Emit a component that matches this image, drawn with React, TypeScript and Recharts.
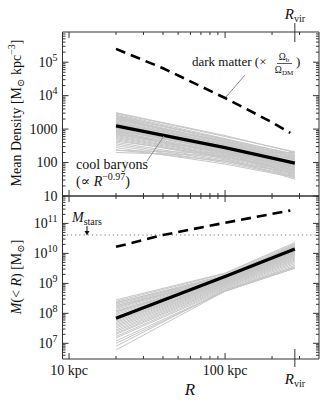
import React from 'react';
import { LineChart, Line, XAxis, YAxis } from 'recharts';

const FONT = "'Liberation Serif', 'Times New Roman', Times, 'DejaVu Serif', serif";
const INK = '#333';
const GRAY = '#c6c6c6';

// radius axis (kpc)
const R_DOMAIN = [9.08, 400];
const R_MAJOR = [10, 100];
const R_LABELS = ['10 kpc', '100 kpc'];
const R_MINOR = [20, 30, 40, 50, 60, 70, 80, 90, 200, 300];
const R_VIR = 280;

// density axis
const DENS_DOMAIN = [10, 8e5];
const DENS_MAJOR = [10, 100, 1000, 1e4, 1e5];
const DENS_LABELS = ['10', '100', '1000', '10^4', '10^5'];

// enclosed mass axis
const MASS_DOMAIN = [3e6, 8.2e11];
const MASS_MAJOR = [1e7, 1e8, 1e9, 1e10, 1e11];
const MASS_LABELS = ['10^7', '10^8', '10^9', '10^10', '10^11'];

const M_STARS = 4.1e10;

// individual cool-baryon profiles, values at GRAY_R
const GRAY_R = [20, 100, 280];
const GRAY_DENSITY = [
  [3100, 640, 200], [3000, 600, 210], [2800, 520, 170], [2600, 480, 160],
  [2500, 450, 150], [2300, 500, 180], [2200, 420, 140], [2100, 400, 130],
  [2000, 380, 125], [1900, 430, 150], [1800, 360, 120], [1700, 340, 110],
  [1600, 330, 105], [1500, 350, 120], [1450, 300, 100], [1400, 310, 95],
  [1300, 290, 100], [1200, 260, 85], [1150, 280, 95], [1100, 240, 80],
  [1050, 250, 88], [1000, 230, 78], [950, 220, 75], [900, 240, 82],
  [850, 200, 70], [800, 210, 72], [760, 190, 65], [720, 180, 62],
  [680, 200, 70], [640, 170, 58], [600, 160, 55], [560, 150, 52],
  [520, 140, 50], [480, 130, 46], [440, 150, 60], [400, 120, 44],
  [360, 110, 40], [320, 100, 38], [280, 90, 36], [240, 110, 48],
  [200, 160, 150], [230, 190, 200], [1500, 200, 35], [2500, 250, 40],
  [900, 130, 32],
];
const GRAY_MASS = [
  [2.8e8, 2.2e9, 2.3e10], [2.5e8, 2.1e9, 2.1e10], [2.2e8, 1.9e9, 1.9e10],
  [2.0e8, 1.8e9, 1.8e10], [1.8e8, 1.75e9, 1.7e10], [1.6e8, 1.7e9, 1.6e10],
  [1.5e8, 1.6e9, 1.55e10], [1.35e8, 1.55e9, 1.5e10], [1.2e8, 1.5e9, 1.4e10],
  [1.1e8, 1.45e9, 1.35e10], [1.0e8, 1.4e9, 1.3e10], [9e7, 1.35e9, 1.2e10],
  [8e7, 1.3e9, 1.15e10], [7.5e7, 1.25e9, 1.1e10], [6.5e7, 1.2e9, 1.05e10],
  [6e7, 1.15e9, 1.0e10], [5.5e7, 1.1e9, 9.5e9], [5e7, 1.1e9, 9e9],
  [4.5e7, 1.05e9, 8.5e9], [4e7, 1.0e9, 8e9], [3.6e7, 9.5e8, 7.5e9],
  [3.2e7, 9e8, 7e9], [2.8e7, 8.5e8, 6.5e9], [2.5e7, 8e8, 6e9],
  [2.2e7, 7.5e8, 5.5e9], [2e7, 7e8, 5e9], [1.7e7, 6.5e8, 4.5e9],
  [1.5e7, 6e8, 4e9], [1.2e7, 5.5e8, 3.6e9], [1e7, 5.4e8, 3.2e9],
  [8e6, 6e8, 3.5e9], [6e6, 5.5e8, 3.2e9], [1.8e8, 1.3e9, 1.3e10],
  [1.2e8, 1.1e9, 1.2e10], [2.3e8, 1.6e9, 2.0e10],
];

// median cool baryons
const MEAN_DENSITY = [1250, 280, 96];
const MEAN_MASS = [6.9e7, 1.68e9, 1.4e10];

// dark matter (scaled)
const DM_DENS_R = [20, 40, 100, 200, 262];
const DM_DENSITY = [2.5e5, 6.6e4, 8.5e3, 1.6e3, 770];
const DM_MASS_R = [20, 40, 100, 262];
const DM_MASS = [1.65e10, 4.1e10, 1.05e11, 2.7e11];

const rows = (rs: number[], vs: number[]) => rs.map((r, i) => ({ r, v: vs[i] }));

const minorTicks = (decades: number[], lo: number, hi: number) =>
  decades.flatMap((d) => [2, 3, 4, 5, 6, 7, 8, 9].map((m) => m * d)).filter((v) => v > lo && v < hi);

const X_TICKS = [...R_MAJOR, ...R_MINOR, R_VIR];
const DENS_TICKS = [...DENS_MAJOR, ...minorTicks([1, 10, 100, 1000, 1e4, 1e5], DENS_DOMAIN[0], DENS_DOMAIN[1])];
const MASS_TICKS = [...MASS_MAJOR, ...minorTicks([1e6, 1e7, 1e8, 1e9, 1e10, 1e11], MASS_DOMAIN[0], MASS_DOMAIN[1])];

const powLabel = (s: string) => {
  const [b, e] = s.split('^');
  if (!e) return s;
  return (
    <>
      {b}
      <tspan dy={-6} fontSize={10}>{e}</tspan>
    </>
  );
};

const makeXTick = (inward: number, labels: boolean, vir: 'up' | 'down' | null) => (p: any) => {
  const v = p.payload.value;
  const { x, y } = p;
  if (v === R_VIR) {
    if (!vir) return <g />;
    return vir === 'up'
      ? <line x1={x} x2={x} y1={y - 9} y2={y + 10} stroke={INK} />
      : <line x1={x} x2={x} y1={y - 10} y2={y + 8} stroke={INK} />;
  }
  const i = R_MAJOR.indexOf(v);
  const len = i >= 0 ? 6 : 3;
  return (
    <g>
      <line x1={x} x2={x} y1={y} y2={y + inward * len} stroke={INK} />
      {labels && i >= 0 && (
        <text x={x} y={y + 16} textAnchor="middle" fontSize={14} style={{ fontFamily: FONT }} fill="#111">
          {R_LABELS[i]}
        </text>
      )}
    </g>
  );
};

const makeYTick = (inward: number, major: number[], labels: string[] | null) => (p: any) => {
  const v = p.payload.value;
  const { x, y } = p;
  const i = major.indexOf(v);
  const len = i >= 0 ? 6 : 3;
  return (
    <g>
      <line x1={x} x2={x + inward * len} y1={y} y2={y} stroke={INK} />
      {labels && i >= 0 && (
        <text x={x - 5} y={y + 4.5} textAnchor="end" fontSize={14} style={{ fontFamily: FONT }} fill="#111">
          {powLabel(labels[i])}
        </text>
      )}
    </g>
  );
};

const axisCommon = {
  tickLine: false,
  tickSize: 0,
  tickMargin: 0,
  interval: 0 as const,
  allowDataOverflow: true,
  axisLine: { stroke: INK, strokeWidth: 1 },
};

function Panel({
  width, height, margin, yDomain, yTicks, yMajor, yLabels, gray, mean, dmR, dm, bottomLabels, vir, stars,
}: any) {
  return (
    <LineChart width={width} height={height} margin={margin}>
      <XAxis xAxisId="b" dataKey="r" type="number" scale="log" domain={R_DOMAIN} ticks={X_TICKS}
        height={1} tick={makeXTick(-1, bottomLabels, vir === 'down' ? 'down' : null)} {...axisCommon} />
      <XAxis xAxisId="t" orientation="top" dataKey="r" type="number" scale="log" domain={R_DOMAIN} ticks={X_TICKS}
        height={1} tick={makeXTick(1, false, vir === 'up' ? 'up' : null)} {...axisCommon} />
      <YAxis yAxisId="l" type="number" scale="log" domain={yDomain} ticks={yTicks} width={1}
        tick={makeYTick(1, yMajor, yLabels)} {...axisCommon} />
      <YAxis yAxisId="r" orientation="right" type="number" scale="log" domain={yDomain} ticks={yTicks} width={1}
        tick={makeYTick(-1, yMajor, null)} {...axisCommon} />
      {stars && (
        <Line xAxisId="b" yAxisId="l" data={rows(R_DOMAIN, [M_STARS, M_STARS])} dataKey="v" stroke="#777"
          strokeWidth={1.2} strokeDasharray="1.2 3" dot={false} activeDot={false} isAnimationActive={false} />
      )}
      {gray.map((g: number[], i: number) => (
        <Line key={`g${i}`} xAxisId="b" yAxisId="l" data={rows(GRAY_R, g)} dataKey="v" stroke={GRAY}
          strokeWidth={1} dot={false} activeDot={false} isAnimationActive={false} />
      ))}
      <Line xAxisId="b" yAxisId="l" data={rows(GRAY_R, mean)} dataKey="v" stroke="#000" strokeWidth={3.2}
        dot={false} activeDot={false} isAnimationActive={false} />
      <Line xAxisId="b" yAxisId="l" data={rows(dmR, dm)} dataKey="v" stroke="#000" strokeWidth={2.6}
        strokeDasharray="10 6" dot={false} activeDot={false} isAnimationActive={false} />
    </LineChart>
  );
}

export default function App() {
  const txt = { style: { fontFamily: FONT }, fill: '#111' };
  return (
    <div style={{ position: 'absolute', left: 0, top: 0, width: 329, height: 413, background: '#fff', fontFamily: FONT }}>
      <div style={{ position: 'absolute', left: 0, top: 0 }}>
        <Panel width={329} height={204} margin={{ top: 31, right: 9, bottom: 7, left: 61.5 }}
          yDomain={DENS_DOMAIN} yTicks={DENS_TICKS} yMajor={DENS_MAJOR} yLabels={DENS_LABELS}
          gray={GRAY_DENSITY} mean={MEAN_DENSITY} dmR={DM_DENS_R} dm={DM_DENSITY}
          bottomLabels={false} vir="up" stars={false} />
      </div>
      <div style={{ position: 'absolute', left: 0, top: 180 }}>
        <Panel width={329} height={233} margin={{ top: 15, right: 9, bottom: 53, left: 61.5 }}
          yDomain={MASS_DOMAIN} yTicks={MASS_TICKS} yMajor={MASS_MAJOR} yLabels={MASS_LABELS}
          gray={GRAY_MASS} mean={MEAN_MASS} dmR={DM_MASS_R} dm={DM_MASS}
          bottomLabels={true} vir="down" stars={true} />
      </div>
      <svg width={329} height={413} style={{ position: 'absolute', left: 0, top: 0, pointerEvents: 'none' }}>
        {/* R_vir labels */}
        <text x={295} y={19} textAnchor="middle" fontSize={15} {...txt}>
          <tspan fontStyle="italic">R</tspan>
          <tspan fontSize={10} dy={3}>vir</tspan>
        </text>
        <text x={295} y={384} textAnchor="middle" fontSize={15} {...txt}>
          <tspan fontStyle="italic">R</tspan>
          <tspan fontSize={10} dy={3}>vir</tspan>
        </text>
        {/* x label */}
        <text x={190} y={395} textAnchor="middle" fontSize={17} fontStyle="italic" {...txt}>R</text>
        {/* y labels */}
        <text transform="translate(21,113) rotate(-90)" textAnchor="middle" fontSize={14} {...txt}>
          Mean Density [M<tspan dy={3} fontSize={10}>⊙</tspan>
          <tspan dy={-3}> kpc</tspan>
          <tspan dy={-6} fontSize={10}>−3</tspan>
          <tspan dy={6}>]</tspan>
        </text>
        <text transform="translate(21,277) rotate(-90)" textAnchor="middle" fontSize={14} {...txt}>
          <tspan fontStyle="italic">M</tspan>(&lt; <tspan fontStyle="italic">R</tspan>) [M
          <tspan dy={3} fontSize={10}>⊙</tspan>
          <tspan dy={-3}>]</tspan>
        </text>
        {/* dark matter annotation */}
        <text x={192} y={66} fontSize={13} {...txt}>dark matter (×</text>
        <text x={284} y={60} textAnchor="middle" fontSize={9.5} {...txt}>
          Ω<tspan fontSize={7} dy={2}>b</tspan>
        </text>
        <line x1={277} x2={292} y1={63.5} y2={63.5} stroke="#111" strokeWidth={0.7} />
        <text x={284} y={73} textAnchor="middle" fontSize={9.5} {...txt}>
          Ω<tspan fontSize={7} dy={2}>DM</tspan>
        </text>
        <text x={296} y={66} fontSize={13} {...txt}>)</text>
        <line x1={245} y1={75} x2={226} y2={97} stroke="#888" strokeWidth={1} />
        {/* cool baryons annotation */}
        <text x={76} y={169} fontSize={14} {...txt}>cool baryons</text>
        <text x={76} y={186} fontSize={14} {...txt}>
          (∝ <tspan fontStyle="italic">R</tspan>
          <tspan dy={-6} fontSize={10}>−0.97</tspan>
          <tspan dy={6}>)</tspan>
        </text>
        <line x1={147} y1={161} x2={164} y2={136} stroke="#888" strokeWidth={1} />
        {/* M_stars annotation */}
        <text x={72} y={222} fontSize={14} {...txt}>
          <tspan fontStyle="italic">M</tspan>
          <tspan dy={3} fontSize={10}>stars</tspan>
        </text>
        <line x1={87} y1={226} x2={87} y2={232} stroke="#111" strokeWidth={1} />
        <polygon points="84.5,231 89.5,231 87,235.5" fill="#111" />
      </svg>
    </div>
  );
}
